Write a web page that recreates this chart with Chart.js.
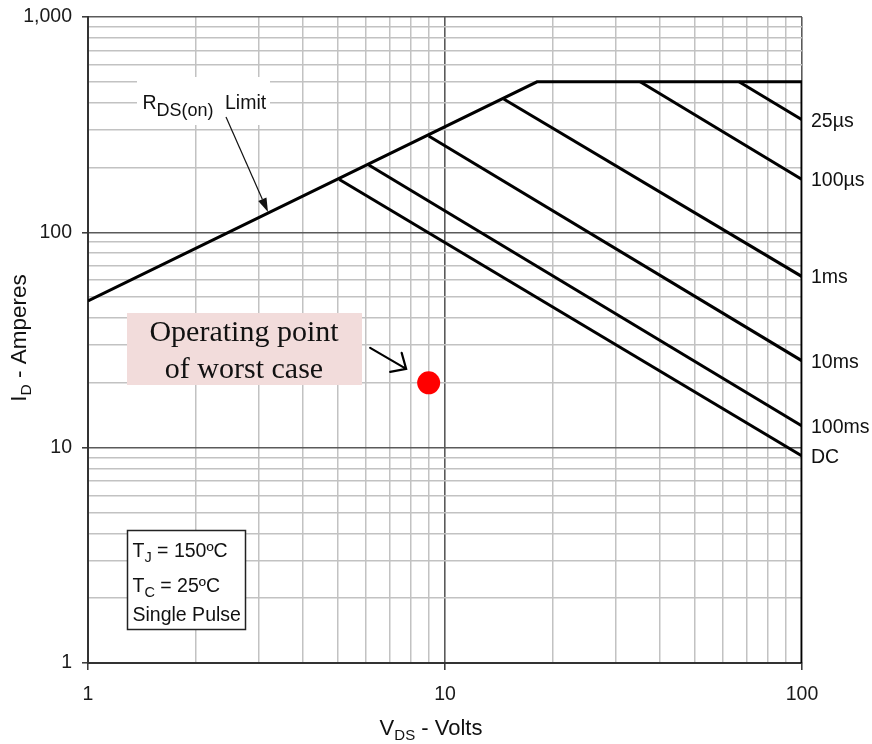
<!DOCTYPE html>
<html>
<head>
<meta charset="utf-8">
<script src="https://cdn.jsdelivr.net/npm/chart.js@4.4.0/dist/chart.umd.min.js"></script>
<style>
  html, body { margin: 0; padding: 0; background: #fff; }
  #wrap { width: 872px; height: 744px; }
</style>
</head>
<body>
<div id="wrap"><canvas id="soa" width="872" height="744"></canvas></div>
<script>
// Safe operating area: drain current vs drain-source voltage (log-log)
const xMajorTicks = [1, 10, 100];
const xTickText = ['1', '10', '100'];
const yMajorTicks = [1, 10, 100, 1000];
const yTickText = ['1', '10', '100', '1,000'];

// SOA boundary: RDS(on) limit, package current limit, VDS maximum
const boundaryV = [1, 18.1, 100, 100];
const boundaryI = [48, 500, 500, 1];

// pulse-width limit lines, from the boundary out to 100 V
const pulseNames = ['25µs', '100µs', '1ms', '10ms', '100ms', 'DC'];
const pulseStartV = [66.6, 35.2, 14.6, 9.0, 6.1, 5.06];
const pulseStartI = [500, 500, 416, 280, 206, 176];
const pulseEndV = [100, 100, 100, 100, 100, 100];
const pulseEndI = [333, 176, 62.3, 25.3, 12.6, 9.15];

// worst-case operating point
const opV = [9];
const opI = [20];

const SANS = '"Liberation Sans", Arial, sans-serif';
const SERIF = '"Liberation Serif", "Times New Roman", serif';

// 1..9 x each decade, for the log grid
function decadeTicks(majors) {
  const out = [];
  for (let k = 0; k < majors.length - 1; k++) {
    for (let m = 1; m < 10; m++) out.push(majors[k] * m);
  }
  out.push(majors[majors.length - 1]);
  return out;
}
const xTicks = decadeTicks(xMajorTicks);
const yTicks = decadeTicks(yMajorTicks);

function pts(xs, ys) { return xs.map((v, i) => ({ x: v, y: ys[i] })); }

const lineStyle = { borderColor: '#000', borderWidth: 3, pointRadius: 0, fill: false, tension: 0, borderJoinStyle: 'miter' };

const datasets = [
  Object.assign({ label: 'Boundary', data: pts(boundaryV, boundaryI) }, lineStyle)
];
pulseNames.forEach((name, i) => {
  datasets.push(Object.assign({
    label: name,
    data: pts([pulseStartV[i], pulseEndV[i]], [pulseStartI[i], pulseEndI[i]])
  }, lineStyle));
});
datasets.push({
  label: 'Operating point',
  data: pts(opV, opI),
  showLine: false,
  pointRadius: 11.5,
  pointBackgroundColor: '#ff0000',
  pointBorderWidth: 0,
  pointBorderColor: '#ff0000'
});

// text with subscript runs: [text, size, dy]
function richText(ctx, parts, x, y, align) {
  let w = 0;
  parts.forEach(p => { ctx.font = p[1] + 'px ' + SANS; w += ctx.measureText(p[0]).width; });
  let cx = align === 'center' ? x - w / 2 : x;
  ctx.textAlign = 'left';
  ctx.textBaseline = 'alphabetic';
  parts.forEach(p => {
    ctx.font = p[1] + 'px ' + SANS;
    ctx.fillText(p[0], cx, y + (p[2] || 0));
    cx += ctx.measureText(p[0]).width;
  });
}

function arrowFilled(ctx, x1, y1, x2, y2, len, half) {
  const a = Math.atan2(y2 - y1, x2 - x1);
  const bx = x2 - len * Math.cos(a), by = y2 - len * Math.sin(a);
  ctx.beginPath();
  ctx.moveTo(x1, y1);
  ctx.lineTo(bx, by);
  ctx.stroke();
  ctx.beginPath();
  ctx.moveTo(x2, y2);
  ctx.lineTo(bx + half * Math.sin(a), by - half * Math.cos(a));
  ctx.lineTo(bx - half * Math.sin(a), by + half * Math.cos(a));
  ctx.closePath();
  ctx.fill();
}

const annotations = {
  id: 'annotations',
  afterDatasetsDraw(chart) {
    const ctx = chart.ctx;
    const area = chart.chartArea;
    const xs = chart.scales.x, ys = chart.scales.y;
    ctx.save();
    ctx.fillStyle = '#111';
    ctx.strokeStyle = '#111';

    // axis titles
    richText(ctx, [['V', 22], ['DS', 15, 5], [' - Volts', 22]], 431, 735, 'center');
    ctx.save();
    ctx.translate(26, 338);
    ctx.rotate(-Math.PI / 2);
    richText(ctx, [['I', 22.5], ['D', 15.5, 5], [' - Amperes', 22.5]], 0, 0, 'center');
    ctx.restore();

    // pulse-width labels at the right edge
    ctx.font = '19.5px ' + SANS;
    ctx.textAlign = 'left';
    ctx.textBaseline = 'middle';
    pulseNames.forEach((name, i) => {
      ctx.fillText(name, area.right + 9, ys.getPixelForValue(pulseEndI[i]) + 1.5);
    });

    // RDS(on) limit label with arrow
    ctx.fillStyle = '#fff';
    ctx.fillRect(137, 77, 133, 48);
    ctx.fillStyle = '#111';
    richText(ctx, [['R', 19.5], ['DS(on)', 18, 7]], 142.5, 108.5, 'left');
    richText(ctx, [['Limit', 19.5]], 225, 108.5, 'left');
    ctx.lineWidth = 1.2;
    arrowFilled(ctx, 226, 117, 268, 212, 14, 4.5);

    // test conditions box
    ctx.fillStyle = '#fff';
    ctx.fillRect(127.5, 530.5, 118, 99);
    ctx.lineWidth = 1.5;
    ctx.strokeStyle = '#222';
    ctx.strokeRect(127.5, 530.5, 118, 99);
    ctx.fillStyle = '#111';
    richText(ctx, [['T', 19.5], ['J', 14.5, 5], [' = 150ºC', 19.5]], 132.5, 557, 'left');
    richText(ctx, [['T', 19.5], ['C', 14.5, 5], [' = 25ºC', 19.5]], 132.5, 591.5, 'left');
    richText(ctx, [['Single Pulse', 19.5]], 132.5, 620.5, 'left');

    // operating point callout
    ctx.fillStyle = '#f2dcdb';
    ctx.fillRect(127, 313, 235, 72);
    ctx.fillStyle = '#111';
    ctx.font = '30px ' + SERIF;
    ctx.textAlign = 'center';
    ctx.textBaseline = 'alphabetic';
    ctx.fillText('Operating point', 244, 340.5);
    ctx.fillText('of worst case', 244, 377.5);

    const px = xs.getPixelForValue(opV[0]), py = ys.getPixelForValue(opI[0]);
    const tx = px - 22.5, ty = py - 14;
    ctx.strokeStyle = '#000';
    ctx.lineWidth = 2.2;
    ctx.lineCap = 'round';
    ctx.beginPath();
    ctx.moveTo(tx - 36, ty - 21);
    ctx.lineTo(tx, ty);
    ctx.moveTo(tx - 16, ty + 3);
    ctx.lineTo(tx, ty);
    ctx.lineTo(tx - 4.5, ty - 16);
    ctx.stroke();
    ctx.restore();
  }
};

const gridColor = (majors) => c => majors.includes(c.tick && c.tick.value) ? '#5a5a5a' : '#c2c2c2';
const gridWidth = (majors) => c => majors.includes(c.tick && c.tick.value) ? 1.6 : 1.5;
const tickColor = (majors) => c => majors.includes(c.tick && c.tick.value) ? '#333' : 'rgba(0,0,0,0)';

new Chart(document.getElementById('soa'), {
  type: 'line',
  data: { datasets: datasets },
  options: {
    responsive: false,
    animation: false,
    events: [],
    layout: { padding: { top: 17, right: 70, left: 0, bottom: 0 } },
    plugins: { legend: { display: false }, tooltip: { enabled: false }, title: { display: false } },
    scales: {
      x: {
        type: 'logarithmic',
        position: 'bottom',
        min: 1, max: 100,
        afterBuildTicks: s => { s.ticks = xTicks.map(v => ({ value: v })); },
        afterFit: s => { s.height = 81; s.paddingLeft = 0; s.paddingRight = 0; },
        border: { display: true, color: '#333', width: 2 },
        grid: {
          color: gridColor(xMajorTicks),
          lineWidth: gridWidth(xMajorTicks),
          drawTicks: true,
          tickLength: 7,
          tickColor: tickColor(xMajorTicks),
          tickWidth: 1.5
        },
        ticks: {
          autoSkip: false, maxRotation: 0, minRotation: 0,
          padding: 13,
          color: '#1a1a1a',
          font: { family: SANS, size: 19.5 },
          callback: v => { const k = xMajorTicks.indexOf(v); return k >= 0 ? xTickText[k] : ''; }
        }
      },
      y: {
        type: 'logarithmic',
        position: 'left',
        min: 1, max: 1000,
        afterBuildTicks: s => { s.ticks = yTicks.map(v => ({ value: v })); },
        afterFit: s => { s.width = 88; s.paddingTop = 0; s.paddingBottom = 0; },
        border: { display: true, color: '#333', width: 2 },
        grid: {
          color: gridColor(yMajorTicks),
          lineWidth: gridWidth(yMajorTicks),
          drawTicks: true,
          tickLength: 6,
          tickColor: tickColor(yMajorTicks),
          tickWidth: 1.5
        },
        ticks: {
          autoSkip: false,
          padding: 10,
          color: '#1a1a1a',
          font: { family: SANS, size: 19.5 },
          callback: v => { const k = yMajorTicks.indexOf(v); return k >= 0 ? yTickText[k] : ''; }
        }
      }
    }
  },
  plugins: [annotations]
});
</script>
</body>
</html>
